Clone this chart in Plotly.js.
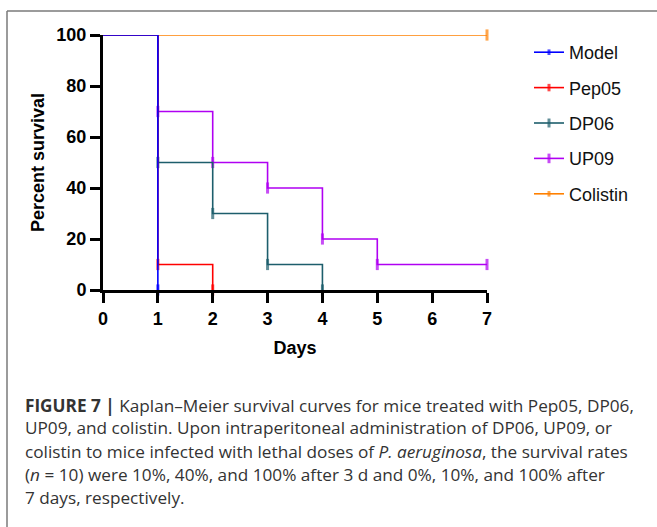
<!DOCTYPE html>
<html>
<head>
<meta charset="utf-8">
<script src="https://cdn.plot.ly/plotly-3.0.1.min.js"></script>
<style>html,body{margin:0;padding:0;background:#fff;}#chart{width:657px;height:527px;}</style>
</head>
<body>
<div id="chart"></div>
<script>
// ---- data ----
var seriesNames = ["Model", "Pep05", "DP06", "UP09", "Colistin"];
var modelDays = [0, 1];
var modelSurvival = [100, 0];
var pep05Days = [0, 1, 2];
var pep05Survival = [100, 10, 0];
var dp06Days = [0, 1, 2, 3, 4];
var dp06Survival = [100, 50, 30, 10, 0];
var up09Days = [0, 1, 2, 3, 4, 5, 7];
var up09Survival = [100, 70, 50, 40, 20, 10, 10];
var colistinDays = [0, 7];
var colistinSurvival = [100, 100];
var xTicks = [0, 1, 2, 3, 4, 5, 6, 7];
var yTicks = [0, 20, 40, 60, 80, 100];
var captionLines = [
  "<b>FIGURE 7 |</b> Kaplan–Meier survival curves for mice treated with Pep05, DP06,",
  "UP09, and colistin. Upon intraperitoneal administration of DP06, UP09, or",
  "colistin to mice infected with lethal doses of <i>P. aeruginosa</i>, the survival rates",
  "(<i>n</i> = 10) were 10%, 40%, and 100% after 3 d and 0%, 10%, and 100% after",
  "7 days, respectively."
];

// ---- styling ----
var colors = ["#0000ff", "#ff0000", "#1d5e6c", "#b000f2", "#ff8000"];
var W = 657, H = 527;
var L = 103, R = 487, T = 35, B = 290;
function px(x) { return (x - L) / (R - L); }
function py(y) { return (B - y) / (B - T); }

var dataSets = [
  [modelDays, modelSurvival],
  [pep05Days, pep05Survival],
  [dp06Days, dp06Survival],
  [up09Days, up09Survival],
  [colistinDays, colistinSurvival]
];

function makeTrace(i) {
  var xs = dataSets[i][0], ys = dataSets[i][1];
  var sizes = xs.map(function (v, k) { return k === 0 ? 0 : 8; });
  return {
    type: "scatter",
    mode: "lines+markers",
    name: seriesNames[i],
    x: xs, y: ys,
    line: { shape: "hv", color: colors[i], width: 1.6 },
    marker: { symbol: "line-ns", size: sizes, color: colors[i], line: { color: colors[i], width: 3 } },
    legendrank: i + 1,
    legendgroup: "g" + i,
    cliponaxis: false,
    hoverinfo: "skip"
  };
}
// draw order: Colistin first, Model last (on top)
var traces = [4, 3, 2, 1, 0].map(makeTrace);

var annotations = captionLines.map(function (t, k) {
  return {
    text: t, xref: "paper", yref: "paper",
    x: px(23), y: py(405 + 23 * k),
    xanchor: "left", yanchor: "middle", showarrow: false,
    font: { family: "Open Sans, Liberation Sans, Arial, sans-serif", size: 17.2, color: "#333333" }
  };
});

var layout = {
  width: W, height: H,
  margin: { l: L, r: W - R, t: T, b: H - B, pad: 0 },
  paper_bgcolor: "#ffffff", plot_bgcolor: "#ffffff",
  font: { family: "Liberation Sans, Arial, sans-serif", color: "#000" },
  showlegend: true,
  xaxis: {
    range: [0, 7], tickvals: xTicks, ticktext: xTicks.map(String),
    showgrid: false, zeroline: false, showline: true, linewidth: 3, linecolor: "#000",
    ticks: "outside", ticklen: 10, tickwidth: 3, tickcolor: "#000",
    tickfont: { size: 18, weight: "bold", color: "#000" },
    title: { text: "Days", font: { size: 18, weight: "bold", color: "#000" }, standoff: 14 },
    fixedrange: true
  },
  yaxis: {
    range: [0, 100], tickvals: yTicks, ticktext: yTicks.map(String),
    showgrid: false, zeroline: false, showline: true, linewidth: 3, linecolor: "#000",
    ticks: "outside", ticklen: 10, tickwidth: 3, tickcolor: "#000",
    tickfont: { size: 18, weight: "bold", color: "#000" },
    title: { text: "Percent survival", font: { size: 18, weight: "bold", color: "#000" }, standoff: 8 },
    fixedrange: true
  },
  legend: {
    x: px(529), y: py(34), xanchor: "left", yanchor: "top",
    font: { size: 18, color: "#111" },
    itemwidth: 30, tracegroupgap: 9,
    bgcolor: "rgba(0,0,0,0)", borderwidth: 0
  },
  shapes: [
    { type: "line", xref: "paper", yref: "paper", x0: px(7), x1: px(7), y0: py(11), y1: py(527), line: { color: "#7a7a7a", width: 1.5 } },
    { type: "line", xref: "paper", yref: "paper", x0: px(7), x1: px(657), y0: py(11), y1: py(11), line: { color: "#7a7a7a", width: 1.5 } }
  ],
  annotations: annotations
};

Plotly.newPlot("chart", traces, layout, { displayModeBar: false, staticPlot: true });
</script>
</body>
</html>
